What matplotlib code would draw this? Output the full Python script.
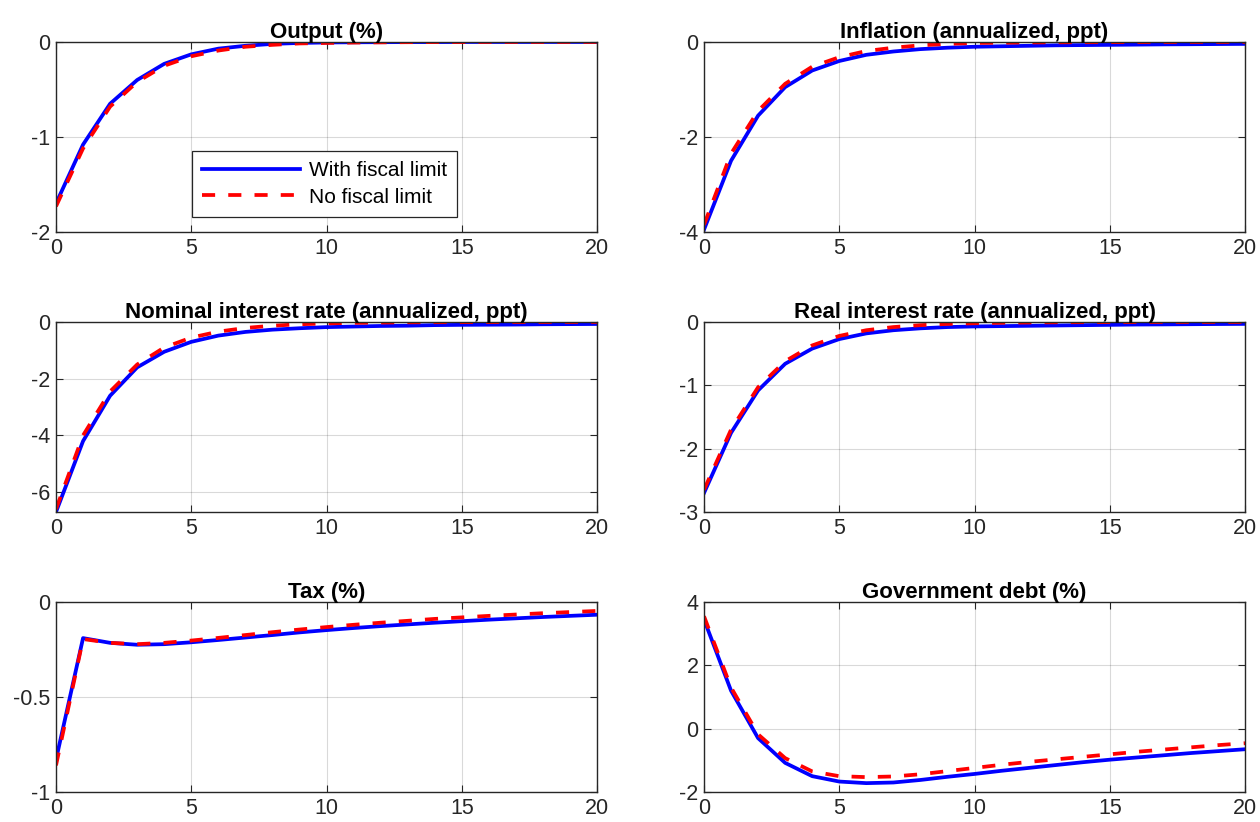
import numpy as np
import matplotlib
matplotlib.use("Agg")
import matplotlib.pyplot as plt

plt.rcParams['font.family'] = ['Liberation Sans', 'DejaVu Sans']

# impulse responses, horizon 0..20
horizon = np.arange(21)

output_fl = [-1.70, -1.08, -0.65, -0.40, -0.23, -0.13, -0.07, -0.04, -0.02, -0.01, -0.005,
             -0.003, -0.002, -0.001, -0.001, 0, 0, 0, 0, 0, 0]
output_nfl = [-1.73, -1.12, -0.68, -0.42, -0.25, -0.15, -0.09, -0.05, -0.03, -0.015, -0.01,
              -0.006, -0.004, -0.002, -0.001, -0.001, 0, 0, 0, 0, 0]

infl_fl = [-3.95, -2.50, -1.55, -0.95, -0.60, -0.40, -0.27, -0.20, -0.15, -0.12, -0.10,
           -0.09, -0.08, -0.07, -0.065, -0.06, -0.055, -0.05, -0.047, -0.043, -0.04]
infl_nfl = [-3.85, -2.35, -1.45, -0.88, -0.52, -0.32, -0.19, -0.12, -0.07, -0.04, -0.02,
            -0.015, -0.01, -0.007, -0.005, -0.003, -0.002, -0.001, 0, 0, 0]

nom_fl = [-6.70, -4.20, -2.60, -1.60, -1.05, -0.70, -0.48, -0.35, -0.27, -0.22, -0.18,
          -0.16, -0.14, -0.13, -0.11, -0.10, -0.095, -0.09, -0.08, -0.075, -0.07]
nom_nfl = [-6.60, -4.00, -2.45, -1.50, -0.90, -0.55, -0.34, -0.21, -0.13, -0.08, -0.05,
           -0.03, -0.02, -0.012, -0.008, -0.005, -0.003, -0.002, -0.001, 0, 0]

real_fl = [-2.70, -1.75, -1.08, -0.66, -0.42, -0.27, -0.18, -0.13, -0.10, -0.08, -0.07,
           -0.065, -0.06, -0.055, -0.05, -0.045, -0.04, -0.038, -0.035, -0.032, -0.03]
real_nfl = [-2.65, -1.70, -1.03, -0.62, -0.37, -0.22, -0.13, -0.08, -0.05, -0.03, -0.02,
            -0.012, -0.008, -0.005, -0.003, -0.002, -0.001, 0, 0, 0, 0]

tax_fl = [-0.83, -0.19, -0.215, -0.225, -0.222, -0.212, -0.20, -0.187, -0.174, -0.16, -0.148,
          -0.137, -0.127, -0.118, -0.109, -0.101, -0.093, -0.086, -0.079, -0.073, -0.067]
tax_nfl = [-0.86, -0.195, -0.215, -0.222, -0.215, -0.203, -0.189, -0.174, -0.159, -0.145, -0.132,
           -0.12, -0.109, -0.099, -0.089, -0.081, -0.073, -0.066, -0.059, -0.053, -0.047]

debt_fl = [3.45, 1.20, -0.30, -1.08, -1.50, -1.67, -1.72, -1.70, -1.62, -1.52, -1.43,
           -1.33, -1.24, -1.15, -1.06, -0.98, -0.91, -0.84, -0.77, -0.71, -0.65]
debt_nfl = [3.55, 1.30, -0.18, -0.93, -1.35, -1.50, -1.53, -1.51, -1.44, -1.34, -1.24,
            -1.14, -1.05, -0.97, -0.89, -0.81, -0.73, -0.66, -0.59, -0.52, -0.46]

titles = ['Output (%)', 'Inflation (annualized, ppt)',
          'Nominal interest rate (annualized, ppt)', 'Real interest rate (annualized, ppt)',
          'Tax (%)', 'Government debt (%)']
series = [(output_fl, output_nfl), (infl_fl, infl_nfl),
          (nom_fl, nom_nfl), (real_fl, real_nfl),
          (tax_fl, tax_nfl), (debt_fl, debt_nfl)]
ylims = [(-2, 0), (-4, 0), (-6.7, 0), (-3, 0), (-1, 0), (-2, 4)]
yticks = [[-2, -1, 0], [-4, -2, 0], [-6, -4, -2, 0], [-3, -2, -1, 0],
          [-1, -0.5, 0], [-2, 0, 2, 4]]

W, H = 1260, 822
fig = plt.figure(figsize=(W / 100, H / 100), dpi=100)

lefts = [56, 704]
tops = [42, 322, 602]
ax_w, ax_h = 541, 190
dark = '#262626'

for k in range(6):
    r, c = divmod(k, 2)
    ax = fig.add_axes([lefts[c] / W, 1 - (tops[r] + ax_h) / H, ax_w / W, ax_h / H])
    fl, nfl = series[k]
    ax.plot(horizon, fl, color='#0000ff', lw=2.7, label='With fiscal limit')
    ax.plot(horizon, nfl, color='#ff0000', lw=2.7, dashes=(3.5, 3.5), label='No fiscal limit')
    ax.set_xlim(0, 20)
    ax.set_ylim(*ylims[k])
    ax.set_xticks([0, 5, 10, 15, 20])
    ax.set_yticks(yticks[k])
    ax.set_yticklabels([('%g' % v) for v in yticks[k]])
    ax.grid(True, color='#000000', alpha=0.15, lw=0.8)
    ax.tick_params(direction='in', length=5, width=0.8, top=True, right=True,
                   labelsize=15.5, colors=dark, pad=4)
    for s in ax.spines.values():
        s.set_color(dark)
        s.set_linewidth(1.0)
    ax.set_title(titles[k], fontsize=16, fontweight='bold', pad=3)
    if k == 0:
        leg = ax.legend(loc='upper left', bbox_to_anchor=((192 - 56) / ax_w, 1 - (151 - 42) / ax_h),
                        fontsize=15, handlelength=4.7, fancybox=False, framealpha=1,
                        edgecolor=dark, borderpad=0.5, labelspacing=0.35, handletextpad=0.4,
                        borderaxespad=0)
        leg.get_frame().set_linewidth(0.9)

fig.savefig('out.png', dpi=100)
